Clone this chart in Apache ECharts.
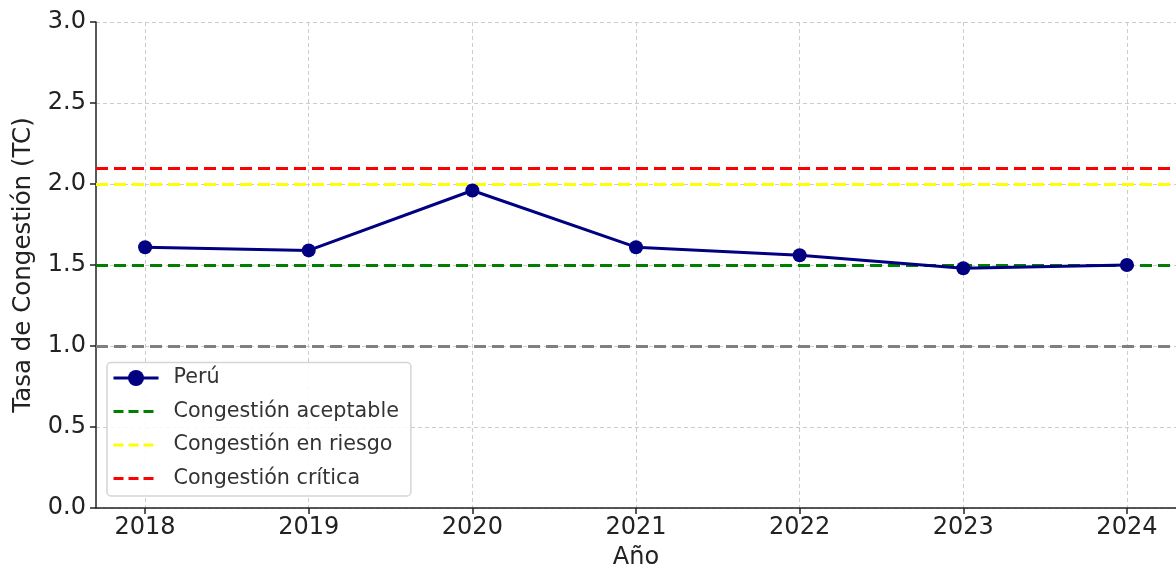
<!DOCTYPE html>
<html>
<head>
<meta charset="utf-8">
<script src="https://cdn.jsdelivr.net/npm/echarts@6/dist/echarts.min.js"></script>
<style>
  html, body { margin: 0; padding: 0; background: #fff; }
  #chart { width: 1176px; height: 570px; }
</style>
</head>
<body>
<div id="chart"></div>
<script>
const years = [2018, 2019, 2020, 2021, 2022, 2023, 2024];
const peru = [1.61, 1.59, 1.96, 1.61, 1.56, 1.48, 1.5];
const yTicks = [0, 0.5, 1.0, 1.5, 2.0, 2.5, 3.0];
const umbrales = [
  { name: "Congestión aceptable", value: 1.5, color: "#008000" },
  { name: "Congestión en riesgo", value: 2.0, color: "#ffff00" },
  { name: "Congestión crítica", value: 2.1, color: "#ff0000" },
];
const referencia = 1.0;

const font = "DejaVu Sans";

const thresholdSeries = umbrales.map((u) => ({
  name: u.name,
  type: "line",
  data: [],
  symbol: "none",
  lineStyle: { color: u.color, width: 3, type: [10, 5] },
  itemStyle: { color: u.color, opacity: 0 },
  markLine: {
    silent: true,
    symbol: "none",
    label: { show: false },
    lineStyle: { color: u.color, width: 3, type: [12, 6], opacity: 1 },
    data: [{ yAxis: u.value }],
  },
  z: 3,
}));

const option = {
  animation: false,
  grid: { left: 96, right: 0, top: 22, bottom: 62, outerBoundsMode: "none" },
  legend: {
    data: ["Perú"].concat(umbrales.map((u) => u.name)),
    orient: "vertical",
    left: 107,
    bottom: 74,
    padding: [5, 12, 7, 5],
    itemGap: 12.5,
    itemWidth: 45,
    itemHeight: 20,
    lineStyle: { width: 3 },
    backgroundColor: "rgba(255,255,255,0.85)",
    borderColor: "#d5d5d5",
    borderWidth: 1.5,
    borderRadius: 4,
    textStyle: { fontFamily: font, fontSize: 20.7, color: "#333", padding: [0, 0, 0, 10] },
  },
  xAxis: {
    type: "value",
    min: 2017.7,
    max: 2024.3,
    name: "Año",
    nameLocation: "middle",
    nameGap: 38,
    nameTextStyle: { fontFamily: font, fontSize: 24, color: "#222" },
    axisLine: { lineStyle: { color: "#222", width: 1.5 } },
    axisTick: { show: true, length: 6, customValues: years, lineStyle: { color: "#222", width: 1.5 } },
    axisLabel: { customValues: years, fontFamily: font, fontSize: 24, color: "#222", margin: 8, formatter: (v) => String(v) },
    splitLine: { show: true, lineStyle: { color: "#cccccc", type: [4, 3], width: 1 } },
  },
  yAxis: {
    type: "value",
    min: 0,
    max: 3,
    interval: 0.5,
    name: "Tasa de Congestión (TC)",
    nameLocation: "middle",
    nameGap: 60,
    nameTextStyle: { fontFamily: font, fontSize: 24.5, color: "#222" },
    axisLine: { show: true, lineStyle: { color: "#222", width: 1.5 } },
    axisTick: { show: true, length: 6, lineStyle: { color: "#222", width: 1.5 } },
    axisLabel: { customValues: yTicks, fontFamily: font, fontSize: 24, color: "#222", margin: 10, formatter: (v) => v.toFixed(1) },
    splitLine: { show: true, lineStyle: { color: "#cccccc", type: [4, 3], width: 1 } },
  },
  series: [
    {
      name: "Perú",
      type: "line",
      data: years.map((y, i) => [y, peru[i]]),
      symbol: "circle",
      symbolSize: 14,
      lineStyle: { color: "#000080", width: 3 },
      itemStyle: { color: "#000080" },
      z: 5,
    },
    {
      name: "Referencia",
      type: "line",
      data: [],
      markLine: {
        silent: true,
        symbol: "none",
        label: { show: false },
        lineStyle: { color: "#808080", width: 3, type: [12, 6] },
        data: [{ yAxis: referencia }],
      },
      z: 2,
    },
  ].concat(thresholdSeries),
};

const chart = echarts.init(document.getElementById("chart"));
chart.setOption(option);
</script>
</body>
</html>
